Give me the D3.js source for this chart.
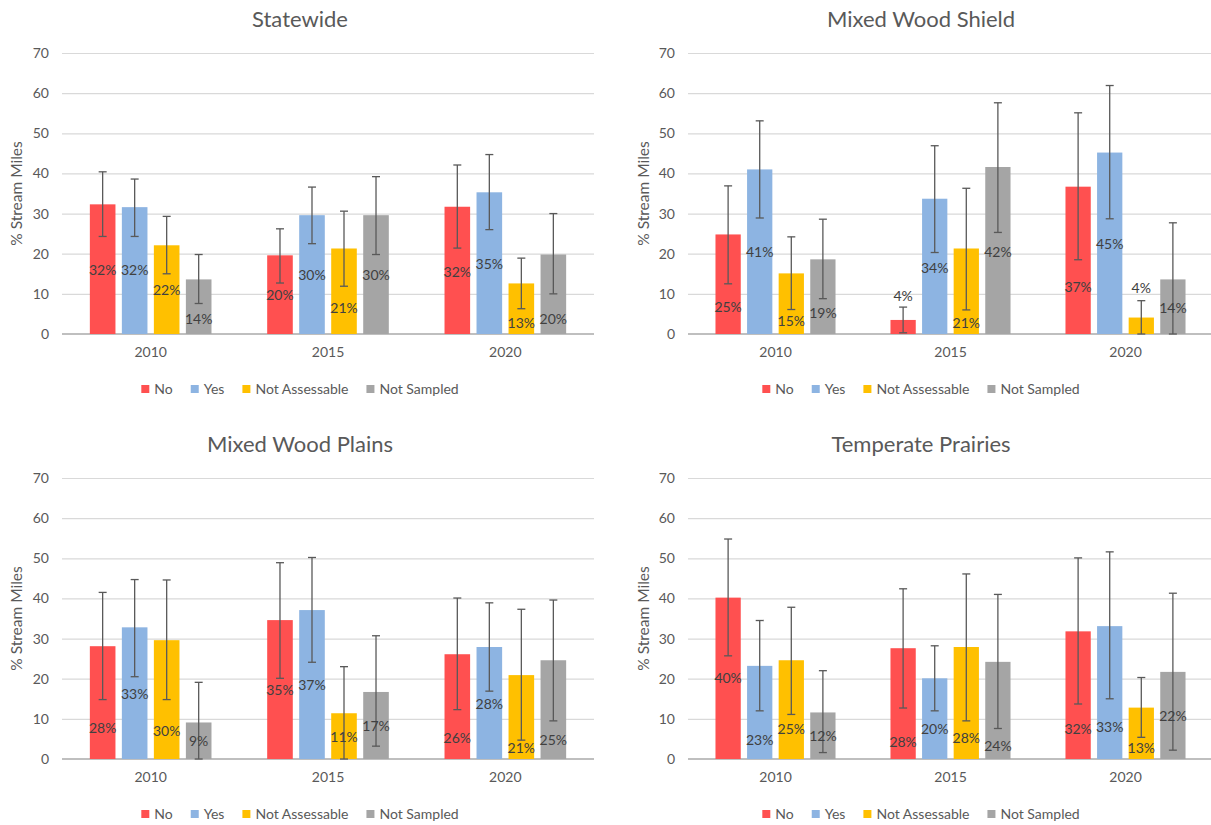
<!DOCTYPE html>
<html>
<head>
<meta charset="utf-8">
<script src="https://cdn.jsdelivr.net/npm/d3@7"></script>
<style>
  body { margin: 0; background: #ffffff; }
  svg { display: block; font-family: Lato, "Open Sans", "Liberation Sans", sans-serif; }
</style>
</head>
<body>
<svg id="chart" width="1211" height="825"></svg>
<script>
// Survey years and assessment outcome categories
const years = ["2010", "2015", "2020"];
const series = ["No", "Yes", "Not Assessable", "Not Sampled"];
const seriesColors = ["#FF5050", "#8DB4E2", "#FFC000", "#A5A5A5"];
const yTicks = [0, 10, 20, 30, 40, 50, 60, 70];
const regionNames = ["Statewide", "Mixed Wood Shield", "Mixed Wood Plains", "Temperate Prairies"];

// % stream miles per year (rows) and category (columns)
const statewideValues = [[32.3, 31.6, 22.1, 13.6], [19.6, 29.6, 21.3, 29.6], [31.7, 35.3, 12.6, 19.8]];
const statewideLow    = [[24.3, 24.3, 15.0, 7.6],  [12.7, 22.5, 11.9, 19.8], [21.4, 26.0, 6.3, 10.0]];
const statewideHigh   = [[40.4, 38.6, 29.3, 19.8], [26.2, 36.6, 30.6, 39.2], [42.1, 44.7, 18.9, 30.0]];
const statewideLabelAt = [[15.9, 15.9, 10.9, 3.8], [9.6, 14.6, 6.4, 14.6], [15.4, 17.4, 2.7, 3.8]];

const shieldValues = [[24.8, 41.0, 15.1, 18.6], [3.5, 33.7, 21.3, 41.6], [36.7, 45.2, 4.1, 13.6]];
const shieldLow    = [[12.5, 28.9, 6.1, 8.8],   [0.3, 20.3, 6.0, 25.3],  [18.5, 28.7, 0.0, 0.0]];
const shieldHigh   = [[36.9, 53.1, 24.2, 28.6], [6.7, 46.9, 36.3, 57.6], [55.1, 61.9, 8.3, 27.7]];
const shieldLabelAt = [[6.6, 20.3, 3.2, 5.3], [9.5, 16.5, 2.8, 20.4], [11.8, 22.3, 11.5, 6.4]];

const plainsValues = [[28.1, 32.8, 29.6, 9.1],  [34.6, 37.1, 11.4, 16.7], [26.1, 27.9, 20.9, 24.6]];
const plainsLow    = [[14.8, 20.5, 14.8, 0.0],  [20.1, 24.1, 0.0, 3.2],   [12.3, 16.9, 4.7, 9.5]];
const plainsHigh   = [[41.5, 44.7, 44.6, 19.1], [48.9, 50.2, 23.0, 30.7], [40.1, 38.9, 37.3, 39.6]];
const plainsLabelAt = [[7.6, 16.2, 7.0, 4.5], [17.2, 18.4, 5.4, 8.3], [5.1, 13.8, 2.7, 4.7]];

const prairieValues = [[40.2, 23.2, 24.6, 11.6], [27.6, 20.1, 27.9, 24.2], [31.8, 33.1, 12.8, 21.7]];
const prairieLow    = [[25.7, 12.0, 11.1, 1.6],  [12.7, 12.0, 9.5, 7.6],   [13.7, 15.0, 5.4, 2.2]];
const prairieHigh   = [[54.8, 34.5, 37.8, 22.0], [42.4, 28.2, 46.1, 41.0], [50.1, 51.6, 20.3, 41.3]];
const prairieLabelAt = [[20.1, 4.7, 7.4, 5.7], [4.3, 7.4, 5.1, 3.1], [7.4, 8.0, 2.7, 10.7]];

const panelData = [
  [statewideValues, statewideLow, statewideHigh, statewideLabelAt],
  [shieldValues, shieldLow, shieldHigh, shieldLabelAt],
  [plainsValues, plainsLow, plainsHigh, plainsLabelAt],
  [prairieValues, prairieLow, prairieHigh, prairieLabelAt]
];

// Panel frames on the page
const frames = [
  { left: 62,  right: 594,  top: 53,  bottom: 334, cx: 300, titleY: 19,  axisTitleX: 17 },
  { left: 688, right: 1213, top: 53,  bottom: 334, cx: 921, titleY: 19,  axisTitleX: 644 },
  { left: 62,  right: 594,  top: 478, bottom: 759, cx: 300, titleY: 444, axisTitleX: 17 },
  { left: 688, right: 1213, top: 478, bottom: 759, cx: 921, titleY: 444, axisTitleX: 644 }
];

const svg = d3.select("#chart");
svg.append("rect").attr("width", 1211).attr("height", 825).attr("fill", "#ffffff");

const textGrey = "#595959";
const labelGrey = "#404040";
const fontStack = "Lato, 'Open Sans', sans-serif";

regionNames.forEach((name, p) => {
  const f = frames[p];
  const [vals, lows, highs, labelAt] = panelData[p];
  const g = svg.append("g");

  const y = d3.scaleLinear().domain([0, 70]).range([f.bottom, f.top]);
  const x0 = d3.scaleBand().domain(years).range([f.left, f.right]).paddingInner(0).paddingOuter(0);
  const x1 = d3.scaleBand().domain(series).range([0, x0.bandwidth()])
    .paddingInner(0.2).paddingOuter(0.87);

  // gridlines
  g.append("g")
    .attr("transform", `translate(${f.left},0)`)
    .call(d3.axisLeft(y).tickValues(yTicks.filter(t => t > 0)).tickSize(-(f.right - f.left)).tickFormat(""))
    .call(a => a.select(".domain").remove())
    .call(a => a.selectAll("line").attr("stroke", "#D9D9D9").attr("stroke-width", 1.2));

  // tick labels
  g.append("g")
    .attr("transform", `translate(${f.left - 13},0)`)
    .call(d3.axisLeft(y).tickValues(yTicks).tickSize(0).tickPadding(0))
    .call(a => a.select(".domain").remove())
    .call(a => a.selectAll("text").attr("fill", textGrey).attr("font-size", 14)
      .attr("font-family", fontStack));

  // baseline
  g.append("line")
    .attr("x1", f.left).attr("x2", f.right)
    .attr("y1", y(0)).attr("y2", y(0))
    .attr("stroke", "#BFBFBF").attr("stroke-width", 2);

  // category axis labels
  g.append("g")
    .attr("transform", `translate(0,${f.bottom + 13})`)
    .call(d3.axisBottom(x0).tickSize(0).tickPadding(0))
    .call(a => a.select(".domain").remove())
    .call(a => a.selectAll("text").attr("fill", textGrey).attr("font-size", 14)
      .attr("font-family", fontStack));

  // flatten rows into records
  const records = [];
  years.forEach((yr, i) => series.forEach((s, j) => {
    records.push({ year: yr, s, j, v: vals[i][j], lo: lows[i][j], hi: highs[i][j], at: labelAt[i][j] });
  }));

  // bars
  g.append("g").selectAll("rect").data(records).join("rect")
    .attr("x", d => x0(d.year) + x1(d.s))
    .attr("width", x1.bandwidth())
    .attr("y", d => y(d.v))
    .attr("height", d => y(0) - y(d.v))
    .attr("fill", d => seriesColors[d.j]);

  // error bars
  const eb = g.append("g").attr("stroke", "#595959").attr("stroke-width", 1.3).attr("fill", "none");
  const cap = 4;
  records.forEach(d => {
    const cx = x0(d.year) + x1(d.s) + x1.bandwidth() / 2;
    eb.append("line").attr("x1", cx).attr("x2", cx).attr("y1", y(d.hi)).attr("y2", y(d.lo));
    eb.append("line").attr("x1", cx - cap).attr("x2", cx + cap).attr("y1", y(d.hi)).attr("y2", y(d.hi));
    eb.append("line").attr("x1", cx - cap).attr("x2", cx + cap).attr("y1", y(d.lo)).attr("y2", y(d.lo));
  });

  // value labels
  g.append("g").selectAll("text").data(records).join("text")
    .attr("x", d => x0(d.year) + x1(d.s) + x1.bandwidth() / 2)
    .attr("y", d => y(d.at))
    .attr("dy", "0.35em")
    .attr("text-anchor", "middle")
    .attr("font-size", 14)
    .attr("fill", labelGrey)
    .text(d => Math.round(d.v) + "%");

  // title
  g.append("text")
    .attr("x", f.cx).attr("y", f.titleY).attr("dy", "0.35em")
    .attr("text-anchor", "middle")
    .attr("font-size", 22)
    .attr("fill", textGrey)
    .text(name);

  // y axis title
  g.append("text")
    .attr("transform", `translate(${f.axisTitleX},${(f.top + f.bottom) / 2}) rotate(-90)`)
    .attr("dy", "0.35em")
    .attr("text-anchor", "middle")
    .attr("font-size", 15.5)
    .attr("fill", textGrey)
    .text("% Stream Miles");

  // legend
  const lg = g.append("g").attr("transform", `translate(0,${f.bottom + 55})`);
  const items = lg.selectAll("g").data(series).join("g");
  items.append("rect").attr("width", 8).attr("height", 8).attr("y", -4)
    .attr("fill", (d, i) => seriesColors[i]);
  items.append("text").attr("x", 13).attr("dy", "0.35em")
    .attr("font-size", 14).attr("fill", textGrey).text(d => d);
  let offset = 0;
  const widths = [];
  items.each(function () { widths.push(13 + this.querySelector("text").getComputedTextLength()); });
  const gap = 18;
  const total = d3.sum(widths) + gap * (widths.length - 1);
  const start = f.cx - total / 2;
  items.attr("transform", (d, i) => {
    const t = `translate(${start + offset},0)`;
    offset += widths[i] + gap;
    return t;
  });
});
</script>
</body>
</html>
